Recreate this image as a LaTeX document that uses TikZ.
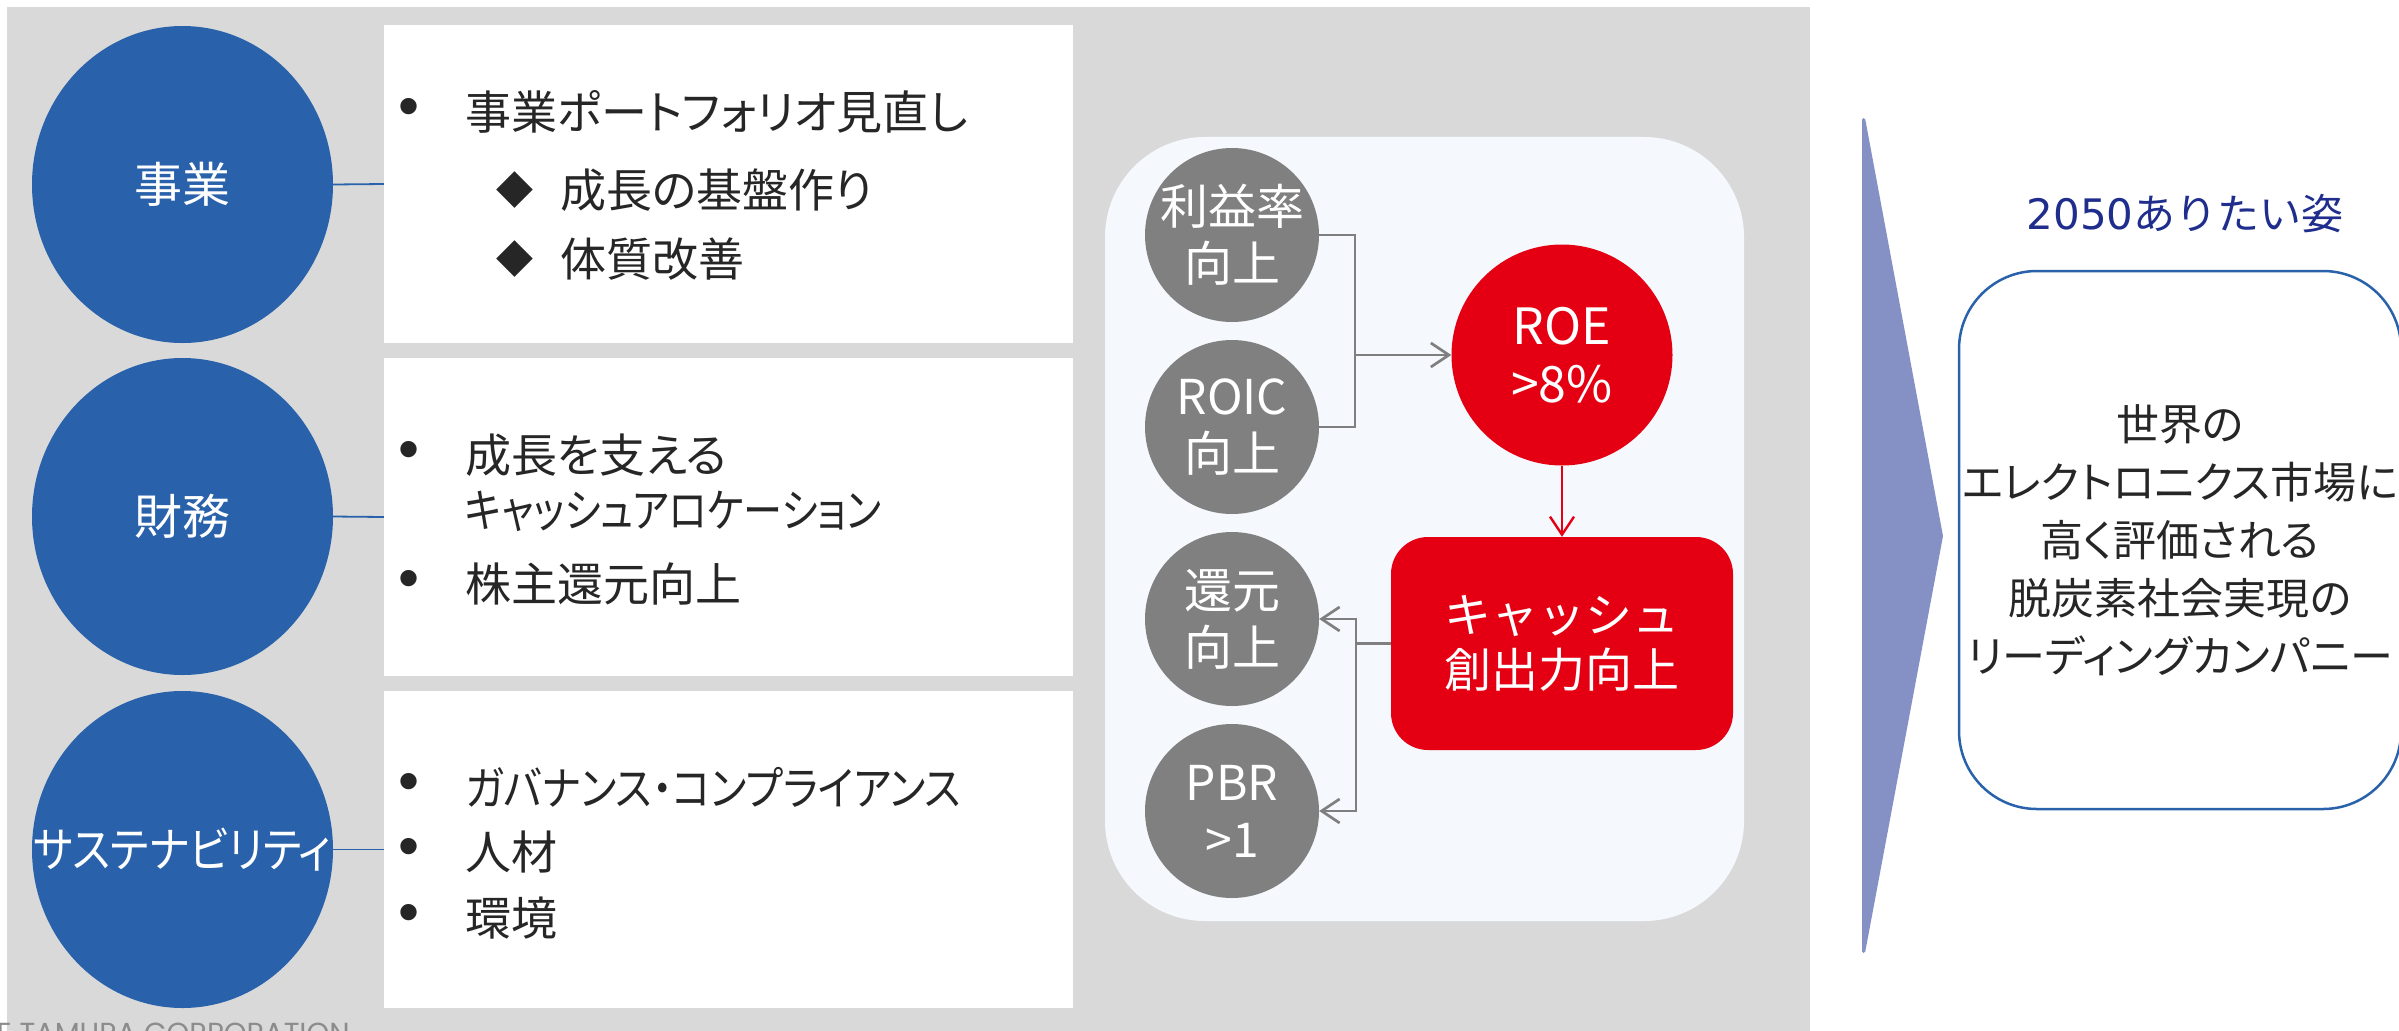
\documentclass[tikz,border=0pt]{standalone}
\usepackage{fontspec}
\setmainfont{Noto Sans CJK JP}
\newfontfamily\jppalt[RawFeature=+palt]{Noto Sans CJK JP}
\newfontfamily\jpnarrow[RawFeature=+palt,FakeStretch=0.88]{Noto Sans CJK JP}
\newfontfamily\jpnarrowb[RawFeature=+palt,FakeStretch=0.85]{Noto Sans CJK JP}
\newfontfamily\dvs{DejaVu Sans}
\newfontfamily\lib{Liberation Sans}
\newfontfamily\pop{Poppins}
\usetikzlibrary{shapes.geometric,arrows.meta}
\definecolor{panelgray}{RGB}{217,217,217}
\definecolor{tblue}{RGB}{41,98,170}
\definecolor{tlight}{RGB}{245,249,254}
\definecolor{cgray}{RGB}{128,128,128}
\definecolor{lgray}{RGB}{127,127,127}
\definecolor{tred}{RGB}{228,0,18}
\definecolor{tchev}{RGB}{133,144,196}
\definecolor{tdark}{RGB}{38,38,38}
\definecolor{ttitle}{RGB}{31,45,140}
\definecolor{cprgray}{RGB}{140,140,140}
\newcommand\fsz[2]{\fontsize{#1bp}{#2bp}\selectfont}
\begin{document}
\begin{tikzpicture}[x=1bp,y=-1bp,
  blueell/.style={ellipse, fill=tblue, minimum width=301bp, minimum height=317bp, inner sep=0pt},
  wbox/.style={rectangle, fill=white, minimum width=689bp, inner sep=0pt},
  elabel/.style={text=white, inner sep=0pt, font=\jppalt\fsz{48}{58}},
  bconn/.style={draw=tblue, line width=1.8bp},
  bul/.style={inner sep=0pt, text=tdark, font=\lib\fsz{60}{64}},
  dia/.style={inner sep=0pt, text=tdark, font=\dvs\fsz{48}{52}},
  itemtxt/.style={anchor=west, inner sep=0pt, text=tdark, font=\jppalt\fsz{46}{56}},
  gcirc/.style={circle, fill=cgray, minimum size=174bp, inner sep=0pt},
  glabel/.style={text=white, align=center, inner sep=0pt, font=\fsz{48}{57}},
  gline/.style={draw=lgray, line width=2.7bp},
  arr/.style={-{Straight Barb[length=18bp,width=24bp]}},
  rline/.style={draw=tred, line width=2.4bp},
]
\useasboundingbox (0,0) rectangle (2399,1030);
\clip (0,0) rectangle (2399,1030);
% background panel
\fill[panelgray] (7,7) rectangle (1810,1040);
% white boxes
\node[wbox, minimum height=318bp] (b1) at (728.5,184) {};
\node[wbox, minimum height=318bp] (b2) at (728.5,517) {};
\node[wbox, minimum height=317bp] (b3) at (728.5,849.5) {};
% blue ellipses
\node[blueell] (e1) at (182.5,184.5) {};
\node[blueell] (e2) at (182.5,516.5) {};
\node[blueell] (e3) at (182.5,849.5) {};
\node[elabel] (l1) at (e1.center) {事業};
\node[elabel] (l2) at (e2.center) {財務};
\node[elabel, font=\jpnarrow\fsz{48}{58}] (l3) at (e3.center) {サステナビリティ};
\draw[bconn] (e1.east) -- (b1.west);
\draw[bconn] (e2.east) -- (b2.west);
\draw[bconn] (e3.east) -- (b3.west);
% box 1
\node[bul] (u1) at (409,112) {•};
\node[itemtxt] (t1) at (465,112) {事業ポートフォリオ見直し};
\node[dia] (d1) at (515,190) {◆};
\node[itemtxt] (t2) at (560,190) {成長の基盤作り};
\node[dia] (d2) at (515,259) {◆};
\node[itemtxt] (t3) at (560,259) {体質改善};
% box 2
\node[bul] (u2) at (409,455) {•};
\node[itemtxt] (t4) at (465,455) {成長を支える};
\node[itemtxt, font=\jpnarrowb\fsz{46}{56}] (t5) at (465,511) {キャッシュアロケーション};
\node[bul] (u3) at (409,584) {•};
\node[itemtxt] (t6) at (465,584) {株主還元向上};
% box 3
\node[bul] (u4) at (409,787) {•};
\node[itemtxt, font=\jpnarrow\fsz{46}{56}] (t7) at (465,787) {ガバナンス・コンプライアンス};
\node[bul] (u5) at (409,852) {•};
\node[itemtxt] (t8) at (465,852) {人材};
\node[bul] (u6) at (409,918) {•};
\node[itemtxt] (t9) at (465,918) {環境};
% copyright
\node[anchor=base east, inner sep=0pt, text=cprgray, font=\pop\fsz{29}{31}] (copy) at (350,1043) {THE TAMURA CORPORATION};
% central light panel
\node[rectangle, rounded corners=100bp, fill=tlight, minimum width=639bp, minimum height=784bp, inner sep=0pt] (panel) at (1424.5,529) {};
% gray circles
\node[gcirc] (g1) at (1232,235) {};
\node[gcirc] (g2) at (1232,427) {};
\node[gcirc] (g3) at (1232,619) {};
\node[gcirc] (g4) at (1232,811) {};
\node[glabel] (gl1) at (g1.center) {利益率\\向上};
\node[glabel] (gl2) at (g2.center) {ROIC\\向上};
\node[glabel] (gl3) at (g3.center) {還元\\向上};
\node[glabel] (gl4) at (g4.center) {PBR\\>1};
% ROE circle
\node[circle, fill=tred, minimum size=221bp, inner sep=0pt] (roe) at (1562,355) {};
\node[glabel, font=\fsz{50}{58}] (roel) at (roe.center) {ROE\\>8\%};
% cash box
\node[rectangle, rounded corners=37bp, fill=tred, text=white, minimum width=342bp, minimum height=213bp, align=center, inner sep=0pt, font=\fsz{47}{55}] (cash) at (1562,643.5) {キャッシュ\\創出力向上};
% connectors
\coordinate (jx) at (1355,0);
\coordinate (jx2) at (1356,0);
\draw[gline, line join=miter] (g1.east) -- (g1.east -| jx) -- (g2.east -| jx) -- (g2.east);
\draw[gline, arr] (roe.west -| jx) -- (roe.west);
\draw[rline, arr] (roe.south) -- (cash.north);
\draw[gline] (cash.west) -- (cash.west -| jx2);
\draw[gline, line cap=rect] (g3.east -| jx2) -- (g4.east -| jx2);
\draw[gline, arr] (g3.east -| jx2) -- (g3.east);
\draw[gline, arr] (g4.east -| jx2) -- (g4.east);
% chevron
\fill[tchev, rounded corners=1.5bp] (1862,118) -- (1865,118) -- (1943,536) -- (1865,953) -- (1862,953) -- cycle;
% title
\node[inner sep=0pt, text=ttitle, font=\fsz{42}{48}] (title) at (2185,214) {{\dvs 2050}ありたい姿};
% goal box
\node[rectangle, rounded corners=78bp, draw=tblue, line width=2.5bp, minimum width=442bp, minimum height=538bp, align=center, inner sep=0pt, text=tdark, font=\jppalt\fsz{43}{58}] (goal) at (2180,540) {世界の\\エレクトロニクス市場に\\高く評価される\\脱炭素社会実現の\\リーディングカンパニー};
\end{tikzpicture}
\end{document}
